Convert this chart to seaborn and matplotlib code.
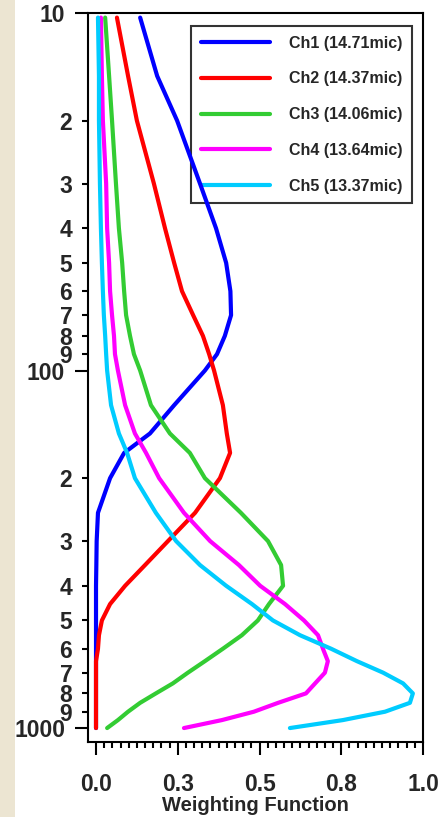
import pandas as pd
import seaborn as sns
from matplotlib import pyplot as plt
from matplotlib.patches import Rectangle
from matplotlib.ticker import FixedLocator, FixedFormatter

# pressure levels (hPa) shared by all channels
pressure = [10.3, 15, 20, 30, 40, 50, 60, 70, 80, 90, 100, 125, 150, 170, 200,
            250, 300, 350, 400, 450, 500, 550, 600, 650, 700, 750, 800, 850,
            900, 950, 1000]

# weighting function per channel
ch1 = [0.135, 0.187, 0.248, 0.318, 0.367, 0.398, 0.411, 0.413, 0.394, 0.370,
       0.333, 0.239, 0.165, 0.086, 0.043, 0.006, 0.002, 0.001, 0.0, 0.0,
       0.0, 0.0, 0.0, 0.0, 0.0, 0.0, 0.0, 0.0, 0.0, 0.0, 0.0]
ch2 = [0.064, 0.098, 0.125, 0.177, 0.211, 0.239, 0.263, 0.297, 0.327, 0.346,
       0.361, 0.388, 0.400, 0.410, 0.379, 0.303, 0.220, 0.150, 0.089, 0.043,
       0.018, 0.009, 0.006, 0.0, 0.0, 0.0, 0.0, 0.0, 0.0, 0.0, 0.0]
ch3 = [0.028, 0.040, 0.049, 0.061, 0.070, 0.080, 0.086, 0.092, 0.104, 0.116,
       0.135, 0.168, 0.226, 0.287, 0.333, 0.443, 0.526, 0.566, 0.572, 0.529,
       0.495, 0.446, 0.388, 0.333, 0.281, 0.235, 0.183, 0.135, 0.098, 0.067,
       0.034]
ch4 = [0.015, 0.018, 0.021, 0.031, 0.034, 0.040, 0.043, 0.049, 0.055, 0.058,
       0.067, 0.089, 0.119, 0.153, 0.193, 0.269, 0.349, 0.437, 0.502, 0.578,
       0.636, 0.679, 0.694, 0.709, 0.700, 0.670, 0.642, 0.557, 0.483, 0.385,
       0.269]
ch5 = [0.006, 0.009, 0.009, 0.012, 0.015, 0.018, 0.021, 0.024, 0.028, 0.031,
       0.034, 0.046, 0.070, 0.095, 0.119, 0.183, 0.245, 0.318, 0.398, 0.477,
       0.541, 0.624, 0.719, 0.798, 0.878, 0.939, 0.969, 0.960, 0.884, 0.755,
       0.593]

channels = ["Ch1 (14.71mic)", "Ch2 (14.37mic)", "Ch3 (14.06mic)",
            "Ch4 (13.64mic)", "Ch5 (13.37mic)"]
colors = ["#0000ff", "#ff0000", "#33cc33", "#ff00ff", "#00ccff"]

x_ticks = [0.0, 0.25, 0.5, 0.75, 1.0]
x_labels = ["0.0", "0.3", "0.5", "0.8", "1.0"]
y_major = [10, 100, 1000]
y_major_labels = ["10", "100", "1000"]
y_minor = [20, 30, 40, 50, 60, 70, 80, 90, 200, 300, 400, 500, 600, 700, 800, 900]
y_minor_labels = ["2", "3", "4", "5", "6", "7", "8", "9"] * 2

# long table for seaborn
rows = []
for name, vals in zip(channels, [ch1, ch2, ch3, ch4, ch5]):
    for p, w in zip(pressure, vals):
        rows.append({"pressure": p, "weight": w, "channel": name})
df = pd.DataFrame(rows)

sns.set_theme(style="ticks")
plt.rcParams["font.family"] = ["Liberation Sans", "DejaVu Sans"]
plt.rcParams["font.weight"] = "bold"

fig = plt.figure(figsize=(4.43, 8.17), dpi=100)
fig.patch.set_facecolor("white")
# beige strip on the left edge
fig.patches.append(Rectangle((0, 0), 15 / 443, 1, transform=fig.transFigure,
                             facecolor="#ece5d2", edgecolor="none", zorder=0))

ax = fig.add_axes([88 / 443, 1 - 742 / 817, 335 / 443, 729 / 817])

sns.lineplot(data=df, x="weight", y="pressure", hue="channel",
             hue_order=channels, palette=dict(zip(channels, colors)),
             orient="y", estimator=None, linewidth=3, ax=ax)

ax.set_yscale("log")
ax.set_ylim(1094, 10)
ax.set_xlim(-0.0245, 1.0)

ax.yaxis.set_major_locator(FixedLocator(y_major))
ax.yaxis.set_major_formatter(FixedFormatter(y_major_labels))
ax.yaxis.set_minor_locator(FixedLocator(y_minor))
ax.yaxis.set_minor_formatter(FixedFormatter(y_minor_labels))

ax.xaxis.set_major_locator(FixedLocator(x_ticks))
ax.xaxis.set_major_formatter(FixedFormatter(x_labels))
ax.xaxis.set_minor_locator(FixedLocator([i * 0.025 for i in range(41)]))

ax.tick_params(axis="y", which="both", labelsize=16.5, width=1.5, color="black",
               pad=7, direction="out")
ax.tick_params(axis="y", which="major", length=9.4)
ax.tick_params(axis="y", which="minor", length=4.3)
ax.tick_params(axis="x", which="both", labelsize=16.5, width=1.5, color="black",
               direction="out", pad=13)
ax.tick_params(axis="x", which="major", length=9.4)
ax.tick_params(axis="x", which="minor", length=4.3)

for lab in ax.get_xticklabels() + ax.get_yticklabels(which="both"):
    lab.set_fontweight("bold")

for s in ax.spines.values():
    s.set_linewidth(1.5)
    s.set_color("black")

ax.set_ylabel("")
ax.set_xlabel("Weighting Function", fontsize=14.5, fontweight="bold", labelpad=0)

# legend box is see-through: the blue line shows across it in the original
handles, labels = ax.get_legend_handles_labels()
leg = ax.legend(handles, labels, loc="upper right", bbox_to_anchor=(0.967, 0.982),
                borderaxespad=0, fancybox=False, facecolor="none", edgecolor="black",
                prop={"size": 11.5, "weight": "bold"}, handlelength=4.3,
                handletextpad=1.2, labelspacing=1.3, borderpad=0.6)
leg.get_frame().set_linewidth(1.5)
leg.set_zorder(1)
for h in leg.get_lines():
    h.set_linewidth(3)

plt.savefig("out.png", dpi=100)
